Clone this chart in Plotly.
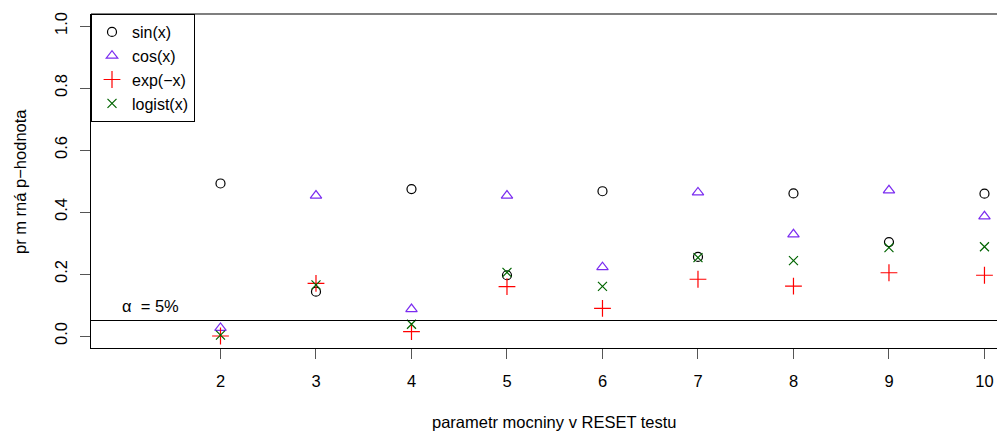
import plotly.graph_objects as go

# ---- data ----
powers = [2, 3, 4, 5, 6, 7, 8, 9, 10]
sin_p = [0.492, 0.143, 0.474, 0.196, 0.467, 0.255, 0.460, 0.303, 0.459]
cos_p = [0.026, 0.453, 0.087, 0.453, 0.222, 0.463, 0.328, 0.470, 0.386]
exp_p = [0.000, 0.170, 0.014, 0.159, 0.089, 0.183, 0.161, 0.204, 0.196]
logist_p = [0.003, 0.165, 0.038, 0.205, 0.160, 0.253, 0.243, 0.285, 0.288]
series_names = ["sin(x)", "cos(x)", "exp(\u2212x)", "logist(x)"]
y_ticks = [0.0, 0.2, 0.4, 0.6, 0.8, 1.0]
y_tick_labels = ["0.0", "0.2", "0.4", "0.6", "0.8", "1.0"]
alpha_level = 0.05
alpha_label = "\u03b1  = 5%"
x_title = "parametr mocniny v RESET testu"
y_title = "pr m rná p\u2212hodnota"

FONT = "Liberation Sans, Arial, Helvetica, sans-serif"
FS = 16.5

styles = [
    dict(symbol="circle-open", color="black", size=9),
    dict(symbol="triangle-up-open", color="#7B2CF0", size=10),
    dict(symbol="cross-thin-open", color="#FF0000", size=12),
    dict(symbol="x-thin-open", color="#006400", size=9),
]

fig = go.Figure()
for name, vals, st in zip(series_names, [sin_p, cos_p, exp_p, logist_p], styles):
    fig.add_trace(go.Scatter(
        x=powers, y=vals, mode="markers", name=name,
        marker=dict(symbol=st["symbol"], size=st["size"], color=st["color"],
                    line=dict(color=st["color"], width=1.2)),
    ))

fig.update_layout(
    width=997, height=424,
    margin=dict(l=83, r=0, t=6, b=84),
    paper_bgcolor="white", plot_bgcolor="white",
    font=dict(family=FONT, size=FS, color="black"),
    showlegend=True,
    legend=dict(x=0, y=1, xanchor="left", yanchor="top",
                bordercolor="black", borderwidth=1, bgcolor="white",
                font=dict(family=FONT, size=16), tracegroupgap=0,
                itemwidth=30),
    xaxis=dict(range=[0.644, 10.215], tickmode="array", tickvals=powers,
               ticktext=[str(p) for p in powers],
               showgrid=False, zeroline=False, showline=True, linecolor="black",
               linewidth=1, ticks="outside", ticklen=10, tickcolor="#555",
               ticklabelstandoff=8, tickfont=dict(size=FS)),
    yaxis=dict(range=[-0.0387, 1.0387], tickmode="array", tickvals=y_ticks,
               ticktext=y_tick_labels, tickangle=-90,
               showgrid=False, zeroline=False, showline=True, linecolor="black",
               linewidth=1, ticks="outside", ticklen=10, tickcolor="#555",
               ticklabelstandoff=6, tickfont=dict(size=FS)),
)

# frame top line
fig.add_shape(type="line", xref="paper", yref="paper", x0=0, x1=1, y0=1, y1=1,
              line=dict(color="#555", width=1.5))
# alpha line
fig.add_shape(type="line", xref="paper", yref="y", x0=0, x1=1,
              y0=alpha_level, y1=alpha_level, line=dict(color="black", width=1.2))

fig.add_annotation(x=1.267, y=0.097, xref="x", yref="y", text=alpha_label,
                   showarrow=False, font=dict(family=FONT, size=FS))
fig.add_annotation(x=0.5066, y=-0.2216, xref="paper", yref="paper", text=x_title,
                   showarrow=False, xanchor="center", yanchor="middle",
                   font=dict(family=FONT, size=FS))
fig.add_annotation(x=-0.0777, y=0.5, xref="paper", yref="paper", text=y_title,
                   showarrow=False, textangle=-90, xanchor="center", yanchor="middle",
                   font=dict(family=FONT, size=FS))

fig.write_html("out.html")
